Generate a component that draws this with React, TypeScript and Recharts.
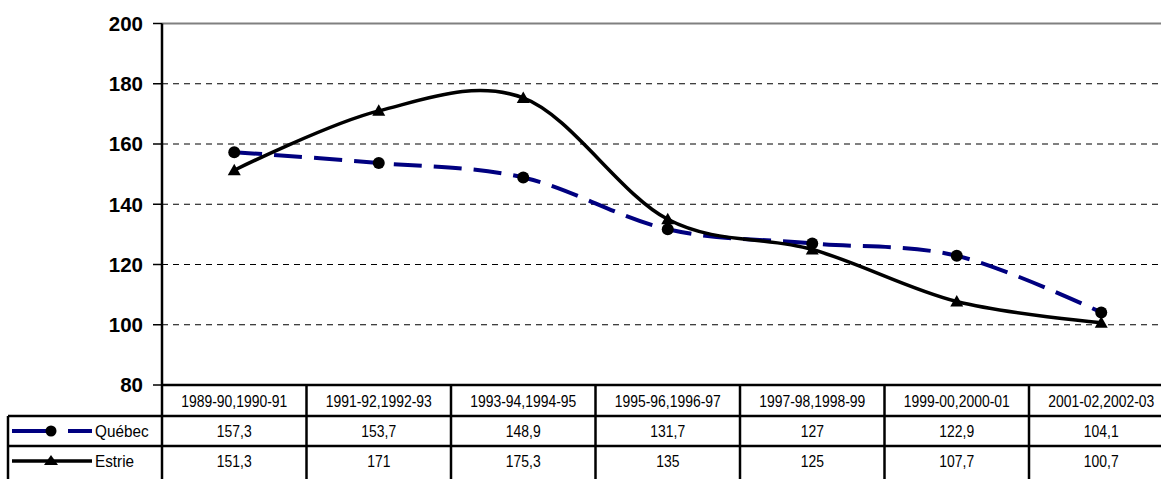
import React from 'react';
import { LineChart, Line, XAxis, YAxis, CartesianGrid, ReferenceLine } from 'recharts';

const categories = ['1989-90,1990-91', '1991-92,1992-93', '1993-94,1994-95', '1995-96,1996-97', '1997-98,1998-99', '1999-00,2000-01', '2001-02,2002-03'];
const quebecValues = [157.3, 153.7, 148.9, 131.7, 127, 122.9, 104.1];
const estrieValues = [151.3, 171, 175.3, 135, 125, 107.7, 100.7];
const yTicks = [80, 100, 120, 140, 160, 180, 200];
const seriesNames = ['Québec', 'Estrie'];

const data = categories.map((c, i) => ({ cat: c, quebec: quebecValues[i], estrie: estrieValues[i] }));

const CHART_W = 1180;
const CHART_H = 479;
const PLOT_LEFT = 162;
const PLOT_TOP = 23.5;
const MARGIN_RIGHT = 6.5;
const XAXIS_H = 94;
const COL_W = (CHART_W - MARGIN_RIGHT - PLOT_LEFT) / categories.length;
const TABLE_TOP = CHART_H - XAXIS_H;
const ROW1 = 416;
const ROW2 = 446;
const TABLE_BOTTOM = 490;
const LEGEND_LEFT = 8;
const HEADER_Y = 401;
const Q_Y = 431;
const E_Y = 461;
const BORDER = 2.5;
const QUEBEC_COLOR = '#000080';
const FONT = '"Liberation Sans", Arial, sans-serif';
const NARROW = 0.82;

// Catmull-Rom style smoothing (like spreadsheet "smoothed line")
function smoothCurve(context: any) {
  let x0 = NaN, y0 = NaN, x1 = NaN, y1 = NaN, x2 = NaN, y2 = NaN, pt = 0;
  const k = 1 / 6;
  const seg = (x: number, y: number) =>
    context.bezierCurveTo(x1 + k * (x2 - x0), y1 + k * (y2 - y0), x2 + k * (x1 - x), y2 + k * (y1 - y), x2, y2);
  return {
    areaStart() {},
    areaEnd() {},
    lineStart() {
      x0 = x1 = x2 = y0 = y1 = y2 = NaN;
      pt = 0;
    },
    lineEnd() {
      if (pt === 2) context.lineTo(x2, y2);
      else if (pt === 3) seg(x1, y1);
    },
    point(x: number, y: number) {
      x = +x; y = +y;
      switch (pt) {
        case 0: pt = 1; context.moveTo(x, y); break;
        case 1: pt = 2; x1 = x; y1 = y; break;
        case 2: pt = 3; seg(x, y); break;
        default: seg(x, y); break;
      }
      x0 = x1; x1 = x2; x2 = x;
      y0 = y1; y1 = y2; y2 = y;
    },
  };
}

const fmt = (v: number) => String(v).replace('.', ',');

const NarrowText = ({ x, y, anchor = 'middle', scale = NARROW, size = 17, children }: any) => (
  <text
    transform={`translate(${x} ${y}) scale(${scale} 1)`}
    x={0}
    y={0}
    fontFamily={FONT}
    fontSize={size}
    fill="#000"
    textAnchor={anchor}
    dominantBaseline="central"
  >
    {children}
  </text>
);

const CircleDot = (props: any) => {
  const { cx, cy, index } = props;
  if (cx == null || cy == null) return null;
  return <circle key={`q-${index}`} cx={cx} cy={cy} r={6} fill="#000" />;
};

const TriangleDot = (props: any) => {
  const { cx, cy, index } = props;
  if (cx == null || cy == null) return null;
  return (
    <polygon
      key={`e-${index}`}
      points={`${cx},${cy - 6.5} ${cx - 6.5},${cy + 5} ${cx + 6.5},${cy + 5}`}
      fill="#000"
    />
  );
};

const TableTick = (props: any) => {
  const { x, payload, index } = props;
  const left = x - COL_W / 2;
  const right = x + COL_W / 2;
  return (
    <g>
      <line x1={left} y1={TABLE_TOP} x2={left} y2={TABLE_BOTTOM} stroke="#000" strokeWidth={BORDER} />
      {index === categories.length - 1 && (
        <line x1={right} y1={TABLE_TOP} x2={right} y2={TABLE_BOTTOM} stroke="#000" strokeWidth={BORDER} />
      )}
      <line x1={left} y1={ROW1} x2={right} y2={ROW1} stroke="#000" strokeWidth={BORDER} />
      <line x1={left} y1={ROW2} x2={right} y2={ROW2} stroke="#000" strokeWidth={BORDER} />
      <NarrowText x={x} y={HEADER_Y}>{payload.value}</NarrowText>
      <NarrowText x={x} y={Q_Y}>{fmt(quebecValues[index])}</NarrowText>
      <NarrowText x={x} y={E_Y}>{fmt(estrieValues[index])}</NarrowText>
      {index === 0 && (
        <g>
          <line x1={LEGEND_LEFT} y1={ROW1} x2={left} y2={ROW1} stroke="#000" strokeWidth={BORDER} />
          <line x1={LEGEND_LEFT} y1={ROW2} x2={left} y2={ROW2} stroke="#000" strokeWidth={BORDER} />
          <line x1={LEGEND_LEFT} y1={ROW1} x2={LEGEND_LEFT} y2={TABLE_BOTTOM} stroke="#000" strokeWidth={BORDER} />
          <line x1={12} y1={Q_Y} x2={92} y2={Q_Y} stroke={QUEBEC_COLOR} strokeWidth={4} strokeDasharray="40 16 24 10" />
          <circle cx={51} cy={Q_Y} r={5.5} fill="#000" />
          <NarrowText x={95} y={Q_Y} anchor="start" scale={0.9} size={17}>{seriesNames[0]}</NarrowText>
          <line x1={12} y1={E_Y} x2={92} y2={E_Y} stroke="#000" strokeWidth={3.5} />
          <polygon points={`51,${E_Y - 6} 44,${E_Y + 4} 58,${E_Y + 4}`} fill="#000" />
          <NarrowText x={95} y={E_Y} anchor="start" scale={0.9} size={17}>{seriesNames[1]}</NarrowText>
        </g>
      )}
    </g>
  );
};

export default function App() {
  return (
    <div style={{ position: 'absolute', left: 0, top: 0, width: 1161, height: 479, overflow: 'hidden', background: '#fff' }}>
      <LineChart
        width={CHART_W}
        height={CHART_H}
        data={data}
        margin={{ top: PLOT_TOP, right: MARGIN_RIGHT, bottom: 0, left: 0 }}
      >
        <CartesianGrid vertical={false} stroke="#000" strokeDasharray="6 5" />
        <ReferenceLine y={200} stroke="#808080" strokeWidth={2} />
        <XAxis
          dataKey="cat"
          scale="band"
          height={XAXIS_H}
          interval={0}
          tickLine={false}
          axisLine={{ stroke: '#000', strokeWidth: BORDER }}
          tick={<TableTick />}
        />
        <YAxis
          width={PLOT_LEFT}
          domain={[80, 200]}
          ticks={yTicks}
          interval={0}
          tickSize={9}
          tickMargin={10}
          tickLine={{ stroke: '#000', strokeWidth: 1.5 }}
          axisLine={{ stroke: '#000', strokeWidth: BORDER }}
          tick={{ fontSize: 20.5, fontWeight: 'bold', fill: '#000', fontFamily: FONT }}
        />
        <Line
          dataKey="quebec"
          name={seriesNames[0]}
          type={smoothCurve as any}
          stroke={QUEBEC_COLOR}
          strokeWidth={4}
          strokeDasharray="28 12"
          dot={<CircleDot />}
          activeDot={false}
          isAnimationActive={false}
        />
        <Line
          dataKey="estrie"
          name={seriesNames[1]}
          type={smoothCurve as any}
          stroke="#000"
          strokeWidth={3.5}
          dot={<TriangleDot />}
          activeDot={false}
          isAnimationActive={false}
        />
      </LineChart>
    </div>
  );
}
